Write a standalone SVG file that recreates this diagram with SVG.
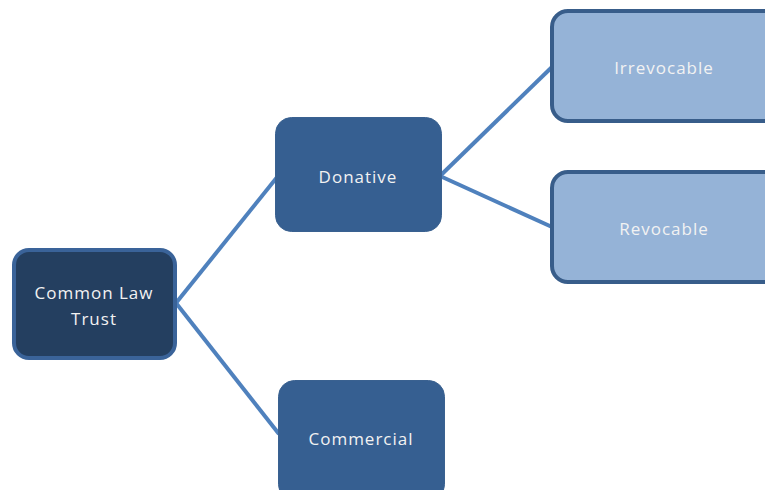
<svg xmlns="http://www.w3.org/2000/svg" width="765" height="490" viewBox="0 0 765 490">
<style>
.conn{stroke:#4F81BD;stroke-width:4;fill:none}
.t{font-family:"Open Sans","Liberation Sans",sans-serif;font-size:17px;fill:#F2F2F2;text-anchor:middle;letter-spacing:1px}
.mid{fill:#365F91;stroke:#3A6190;stroke-width:1}
.leaf{fill:#95B3D7;stroke:#385D8A;stroke-width:4}
</style>
<rect width="765" height="490" fill="#FFFFFF"/>
<g id="connectors">
<line class="conn" x1="176" y1="303" x2="278" y2="176"/>
<line class="conn" x1="176" y1="303" x2="279" y2="434"/>
<line class="conn" x1="440" y1="176" x2="552" y2="67"/>
<line class="conn" x1="440" y1="176" x2="552" y2="227"/>
</g>
<g id="node-common-law-trust">
<rect x="14" y="250" width="161" height="108" rx="15" fill="#243F60" stroke="#3A6399" stroke-width="4"/>
<text class="t" x="94" y="299">Common Law</text>
<text class="t" x="94" y="325">Trust</text>
</g>
<g id="node-donative">
<rect class="mid" x="275.5" y="117.5" width="166" height="114" rx="16"/>
<text class="t" x="358" y="183">Donative</text>
</g>
<g id="node-commercial">
<rect class="mid" x="278.5" y="380.5" width="166" height="120" rx="16"/>
<text class="t" x="361" y="445">Commercial</text>
</g>
<g id="node-irrevocable">
<rect class="leaf" x="552" y="11" width="230" height="110" rx="16"/>
<text class="t" x="664" y="74">Irrevocable</text>
</g>
<g id="node-revocable">
<rect class="leaf" x="552" y="172" width="230" height="110" rx="16"/>
<text class="t" x="664" y="235">Revocable</text>
</g>
</svg>
